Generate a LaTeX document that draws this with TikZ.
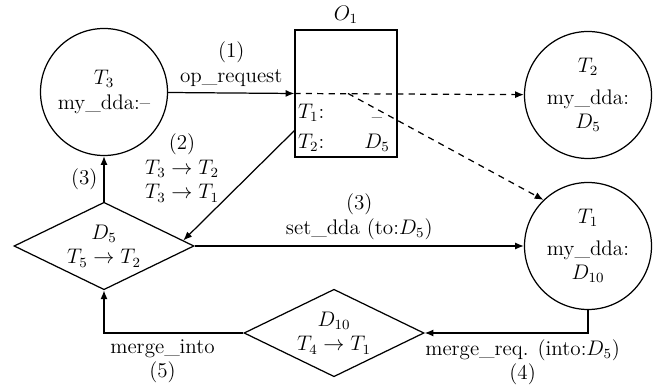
\documentclass[tikz,border=0pt]{standalone}
\usepackage{tikz}
\usetikzlibrary{arrows.meta, positioning, shapes.geometric}

\begin{document}
\begin{tikzpicture}[
  font=\large,
  thread/.style={circle,draw,line width=0.7pt,minimum size=2.54cm,align=center,inner sep=0pt},
  dda/.style={diamond,draw,line width=0.7pt,minimum width=3.6cm,minimum height=1.75cm,inner sep=0pt},
  object/.style={rectangle,draw,line width=0.7pt,minimum width=2.04cm,minimum height=2.54cm},
  arrow/.style={-{Latex[length=5pt,width=4pt]},line width=0.7pt},
  dasharrow/.style={arrow,dash pattern=on 3.5pt off 3pt}
]
  \useasboundingbox (0,0) rectangle (13.2,7.74);

  \node[thread] (t3) at (2.08,5.9)   {$T_3$\\my\_dda:--};
  \node[thread] (t2) at (11.76,5.84) {$T_2$\\[4pt]my\_dda:\\$D_5$};
  \node[thread] (t1) at (11.76,2.82) {$T_1$\\[4pt]my\_dda:\\$D_{10}$};
  \node[object, label=above:$O_1$] (o1) at (6.92,5.87) {};
  \node[anchor=west,inner sep=1pt] (o1r1) at (5.92,5.48) {$T_1$:};
  \node[anchor=base] (o1v1) at (7.54,5.27) {\textendash};
  \node[anchor=west,inner sep=1pt] (o1r2) at (5.92,4.88) {$T_2$:};
  \node (o1v2) at (7.54,4.88) {$D_5$};
  \node[dda, label={[align=center]center:{$D_5$\\$T_5\to T_2$}}] (d5) at (2.08,2.82) {};
  \node[dda, label={[align=center]center:{$D_{10}$\\$T_4\to T_1$}}] (d10) at (6.68,1.08) {};
  \coordinate (split) at (6.96,5.87);

  \draw[arrow] (t3) -- node[above,align=center]{(1)\\op\_request} (o1.west);
  \draw[dasharrow] (o1.west) -- (t2);
  \draw[dasharrow] (split) -- (t1.134);
  \draw[arrow] ([yshift=0.54cm]o1.south west) -- (d5.4);
  \node[align=center] (lbl2) at (3.64,4.38) {(2)\\$T_3\to T_2$\\$T_3\to T_1$};
  \draw[arrow] (d5) -- node[left]{(3)} (t3);
  \draw[arrow] (d5) -- node[above,align=center]{(3)\\set\_dda (to:$D_5$)} (t1);
  \draw[arrow] (t1) |- node[pos=0.7,below,align=center]{merge\_req. (into:$D_5$)\\(4)} (d10);
  \draw[arrow] (d10) -| node[pos=0.29,below,align=center]{merge\_into\\(5)} (d5);
\end{tikzpicture}
\end{document}
